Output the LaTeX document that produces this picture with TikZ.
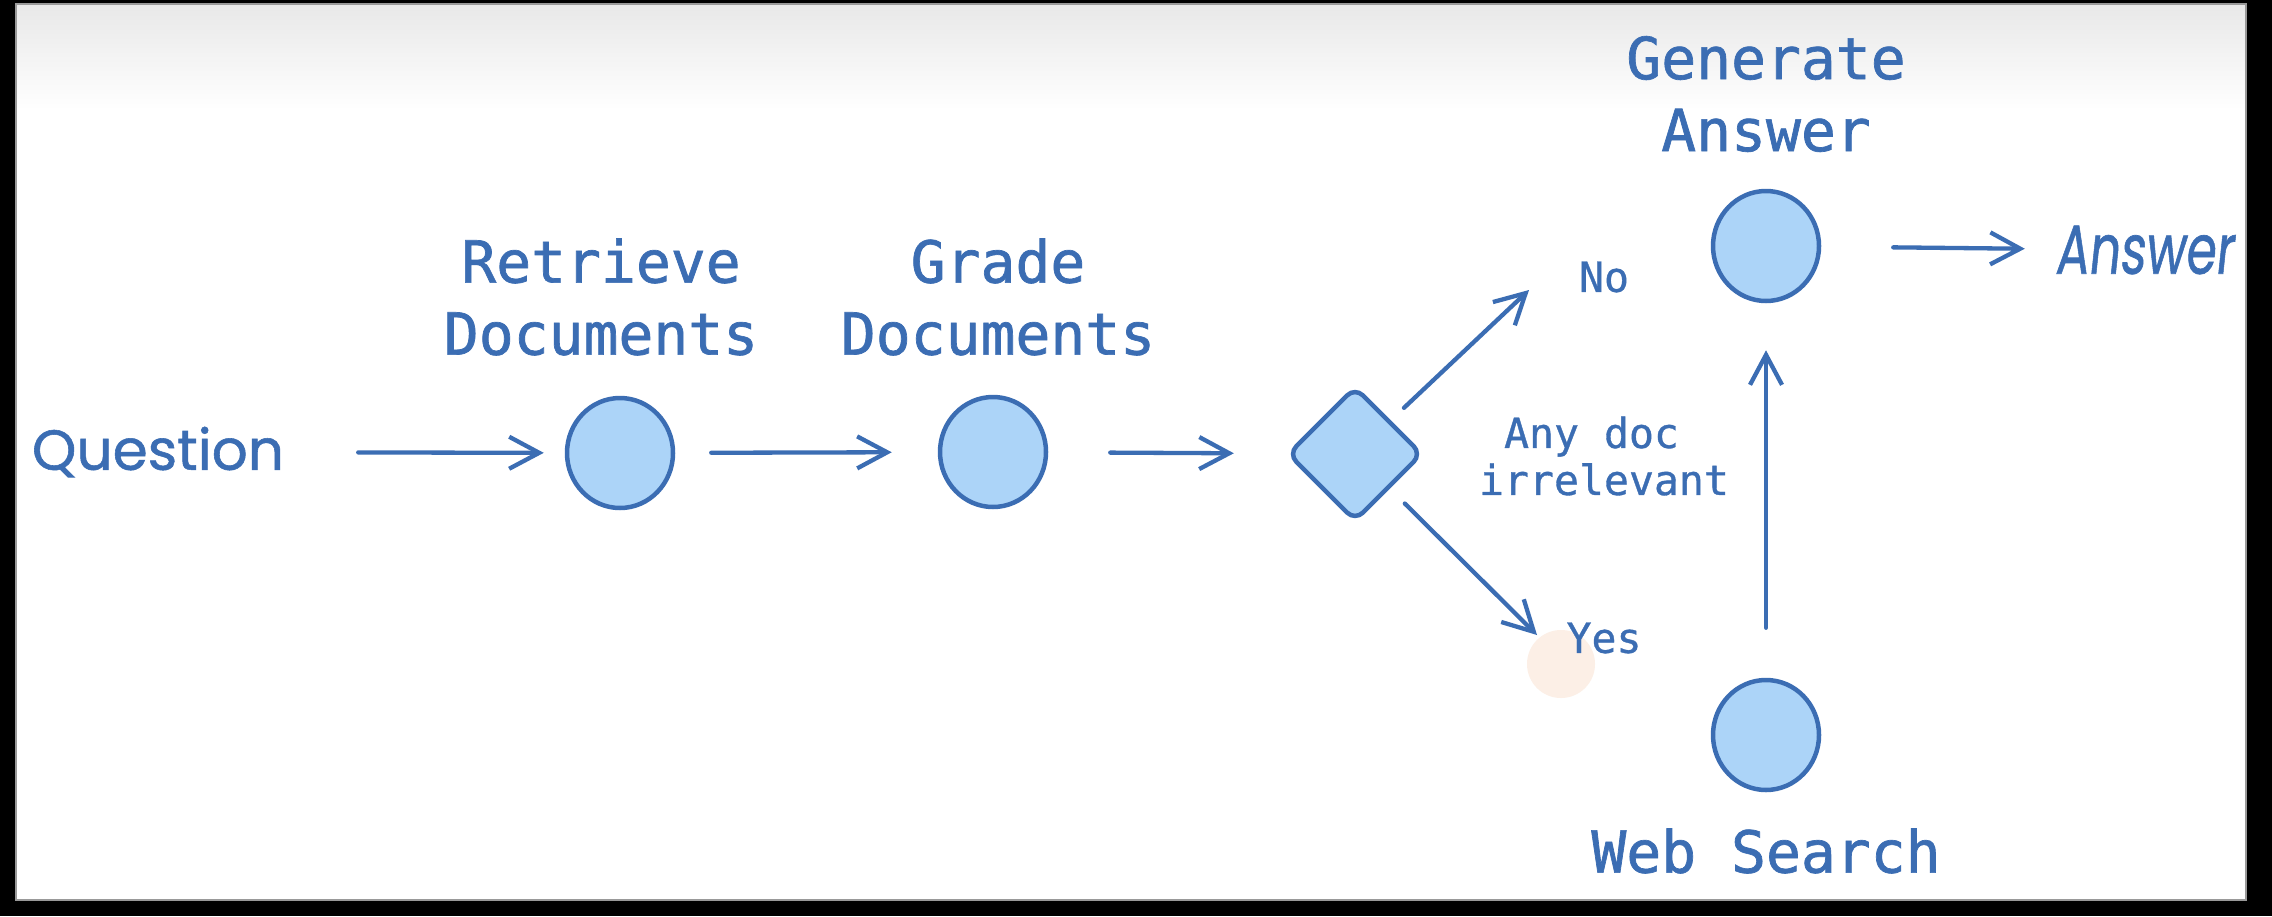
\documentclass[tikz,border=0pt]{standalone}
\usepackage{fontspec}
\usetikzlibrary{arrows.meta,shapes.geometric}
\newfontfamily\monofont[FakeBold=1.2]{DejaVu Sans Mono}
\newfontfamily\smallmono[FakeBold=0.8]{DejaVu Sans Mono}
\newfontfamily\handfont[FakeBold=1]{Poppins}
\newfontfamily\handslant[FakeSlant=0.15,FakeBold=1]{Poppins}
\definecolor{mainblue}{HTML}{3B6DB3}
\definecolor{fillblue}{HTML}{ACD4F8}
\definecolor{peach}{HTML}{FCEFE6}
\begin{document}
\begin{tikzpicture}[x=1pt,y=-1pt,
  blob/.style={ellipse, draw=mainblue, fill=fillblue, line width=4.5pt, minimum width=106pt, minimum height=110pt, inner sep=0pt},
  gate/.style={rectangle, rounded corners=11pt, draw=mainblue, fill=fillblue, line width=4.5pt, minimum width=94pt, minimum height=94pt, rotate=45, inner sep=0pt},
  title/.style={text=mainblue, font=\monofont\fontsize{58}{72}\selectfont, align=center, inner sep=0pt},
  small/.style={text=mainblue, font=\smallmono\fontsize{41.5}{47}\selectfont, align=center, inner sep=0pt},
  hand/.style={text=mainblue, inner sep=0pt},
  spot/.style={circle, fill=peach, minimum size=68pt, inner sep=0pt},
  arr/.style={draw=mainblue, line width=4.3pt, line cap=round, -{Straight Barb[length=30pt,width=32pt]}}
]
\useasboundingbox (0,0) rectangle (2272,916);
\fill[black] (0,0) rectangle (2272,916);
\fill[white] (16,4) rectangle (2246,900);
\shade[top color=black!9, bottom color=white] (16,4) rectangle (2246,110);
\draw[black!40, line width=1.2pt] (16,4) rectangle (2246,900);

\node[hand] (q) at (158,452) {\resizebox{252pt}{!}{\handfont Question}};
\node[blob] (r) at (620,453) {};
\node[title] (rt) at (601,297) {Retrieve\\Documents};
\node[blob] (g) at (993,452) {};
\node[title] (gt) at (998,297) {Grade\\Documents};
\node[gate] (d) at (1355,454) {};
\coordinate (notip) at (1529,290);
\coordinate (yestip) at (1537,635);
\node[small] (no) at (1604,277) {No};
\node[spot] (mark) at (1561,664) {};
\node[small] (yes) at (1604,638) {Yes};
\node[small] (cond) at (1604,456) {Any doc\hphantom{x}\\irrelevant};
\node[blob] (ga) at (1766,246) {};
\node[title] (gat) at (1766,94) {Generate\\Answer};
\node[hand] (ans) at (2144,250) {\resizebox{178pt}{48pt}{\handslant Answer}};
\node[blob] (ws) at (1766,735) {};
\node[title] (wst) at (1766,851) {Web Search};

\draw[arr, shorten <=74pt, shorten >=21pt] (q) -- (r);
\draw[arr, shorten <=36pt, shorten >=46pt] (r) -- (g);
\draw[arr, shorten <=62pt, shorten >=52pt] (g) -- (d);
\draw[arr, shorten <=18pt] (d) -- (notip);
\draw[arr, shorten <=21pt] (d) -- (yestip);
\draw[arr, shorten <=50pt, shorten >=47pt] (ws) -- (ga);
\draw[arr, shorten <=72pt, shorten >=30pt] (ga) -- (ans);
\end{tikzpicture}
\end{document}
